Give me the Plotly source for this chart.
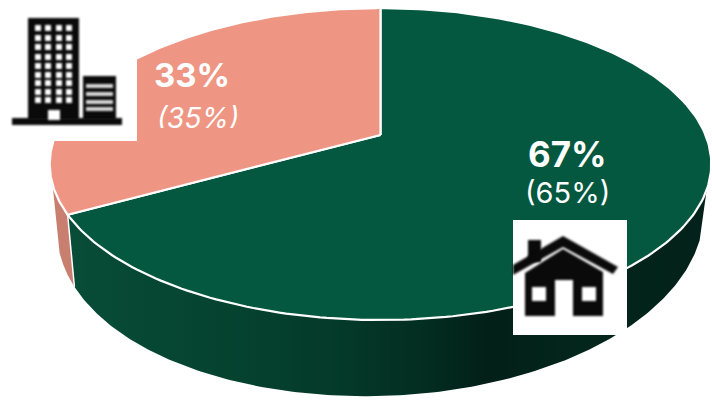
import numpy as np
import plotly.graph_objects as go

# Housing split: current share and prior-period share in brackets
categories = ["Houses", "Apartments"]
shares = [67, 33]
prior_shares = [65, 35]

GREEN_TOP = "#04583F"
SALMON_TOP = "#EE9683"
SALMON_SIDE = "#C97F6F"
INK = "#0A0A0A"

# Perspective disc: apex of the wedges, half-widths and foreshortening
CX, CY = 380.5, 135.0
K_TOP, K_LOW = 325.0, 318.0
A_Y, TILT = 125.5, -0.186

# Wall depth: base value, growth toward the viewer, sideways lean
DEPTH_BASE, DEPTH_FRONT, DEPTH_LEAN = 51.5, 24.5, -10.0
SIDE_START = 110.0
SIDE_END = 252.0


def rim(theta_deg, k=K_TOP, lower=False):
    """Project clockwise-from-north angles onto the tilted disc."""
    t = np.radians(np.asarray(theta_deg, dtype=float))
    u, v = np.sin(t), -np.cos(t)
    den = 1 + TILT * v
    y = (A_Y * v + CY) / den
    if lower:
        y = y + DEPTH_BASE + DEPTH_FRONT * v + DEPTH_LEAN * u
    return CX + k * u / den, y


split = 360.0 * shares[0] / sum(shares)


def wedge(a0, a1):
    th = np.linspace(a0, a1, 240)
    x, y = rim(th)
    return np.r_[CX, x, CX], np.r_[CY, y, CY]


def wall(a0, a1):
    th = np.linspace(a0, a1, 200)
    x0, y0 = rim(th)
    x1, y1 = rim(th[::-1], K_LOW, lower=True)
    return np.r_[x0, x1, x0[0]], np.r_[y0, y1, y0[0]]


fig = go.Figure()

wx, wy = wall(SIDE_START, split)
fig.add_scatter(
    x=wx, y=wy, mode="lines", line=dict(width=0), fill="toself",
    fillgradient=dict(
        type="horizontal",
        colorscale=[
            [0.00, "#084D38"], [0.10, "#064834"], [0.25, "#05432F"],
            [0.42, "#043A2A"], [0.55, "#032E22"], [0.66, "#021F18"],
            [0.80, "#03261C"], [1.00, "#02211A"],
        ],
    ),
    hoverinfo="skip",
)
sx, sy = wall(split, SIDE_END)
fig.add_scatter(x=sx, y=sy, mode="lines", line=dict(width=0), fill="toself",
                fillcolor=SALMON_SIDE, hoverinfo="skip")

# Top faces, with a white seam along every slice edge
gx, gy = wedge(0, split)
fig.add_scatter(x=gx, y=gy, mode="lines", line=dict(color="white", width=2.2),
                fill="toself", fillcolor=GREEN_TOP, hoverinfo="skip")
px, py = wedge(split, 360)
fig.add_scatter(x=px, y=py, mode="lines", line=dict(color="white", width=2.2),
                fill="toself", fillcolor=SALMON_TOP, hoverinfo="skip")

# Seam between the two side walls
ex0, ey0 = rim([split])
ex1, ey1 = rim([split], K_LOW, lower=True)
fig.add_scatter(x=[ex0[0], ex1[0]], y=[ey0[0], ey1[0]], mode="lines",
                line=dict(color="white", width=1.5), hoverinfo="skip")

LABEL_FONT = "Inter"

# The bracketed salmon figure sits right on the slice's lower text limit,
# so a strip of slice colour trims its descenders
fig.add_scatter(
    x=[198], y=[120.5], mode="text", text=[f"<i>({prior_shares[1]}%)</i>"],
    textposition="middle center",
    textfont=dict(size=28, color="white", family=LABEL_FONT, weight=400),
    hoverinfo="skip",
)
fig.add_scatter(
    x=[150, 250, 250, 150, 150], y=[128, 128, 140, 140, 128],
    mode="lines", line=dict(width=0), fill="toself", fillcolor=SALMON_TOP,
    hoverinfo="skip",
)


def rect(x0, y0, x1, y1, color):
    return dict(type="rect", x0=x0, y0=y0, x1=x1, y1=y1,
                fillcolor=color, line_width=0, layer="above")


def poly(points, color):
    path = "M" + " L".join(f"{x},{y}" for x, y in points) + " Z"
    return dict(type="path", path=path, fillcolor=color, line_width=0, layer="above")


shapes = []
tile_indices = []

# Office-block icon on a white tile
tile_indices.append(len(shapes))
shapes.append(rect(0, 0, 137, 141, "white"))
shapes.append(rect(28, 18, 79, 120, INK))
shapes.append(rect(83, 76, 116, 120, INK))
shapes.append(rect(12, 118, 122, 125, INK))
for wy_ in [28, 38, 47, 57, 66, 75, 83, 92, 100]:
    for wx_ in [38, 48, 59, 69]:
        shapes.append(rect(wx_ - 3, wy_ - 3, wx_ + 3, wy_ + 3, "white"))
shapes.append(rect(48, 110, 60, 120, "white"))
for band in [84, 92, 100, 107]:
    shapes.append(rect(86, band, 113, band + 4, "#D8D8D8"))

# House icon on a white tile
tile_indices.append(len(shapes))
shapes.append(rect(513, 220, 627, 335, "white"))
shapes.append(rect(528, 240, 541, 262, INK))
shapes.append(poly([(513, 265), (563, 236), (618, 267), (613, 274), (563, 247), (513, 275)], INK))
shapes.append(poly([(525, 273), (563, 249), (603, 272), (603, 316), (573, 316), (573, 280),
                    (555, 280), (555, 316), (525, 316)], INK))
shapes.append(rect(532, 287, 546, 301, "white"))
shapes.append(rect(582, 287, 596, 301, "white"))

annotations = [
    dict(x=567, y=154, text=f"{shares[0]}%", font=dict(size=35, color="white", family=LABEL_FONT, weight=700)),
    dict(x=567, y=192, text=f"({prior_shares[0]}%)", font=dict(size=29, color="white", family=LABEL_FONT, weight=400)),
    dict(x=191.5, y=74.5, text=f"{shares[1]}%", font=dict(size=33, color="white", family=LABEL_FONT, weight=700)),
]
for a in annotations:
    a.update(showarrow=False, xanchor="center", yanchor="middle")

fig.update_layout(
    width=712, height=400, autosize=False,
    margin=dict(l=0, r=0, t=0, b=0),
    paper_bgcolor="white", plot_bgcolor="white",
    showlegend=False, shapes=shapes, annotations=annotations,
    xaxis=dict(range=[0, 712], visible=False, fixedrange=True),
    yaxis=dict(range=[400, 0], visible=False, fixedrange=True),
)

# Soften the pictograms; the white tiles keep their crisp edges
soften = """
var tiles = %s;
document.querySelectorAll('.shapelayer path').forEach(function (p) {
  if (tiles.indexOf(Number(p.getAttribute('data-index'))) < 0) {
    p.style.filter = 'blur(0.9px)';
  }
});
""" % tile_indices

fig.write_html("out.html", config=dict(displayModeBar=False), post_script=soften)
